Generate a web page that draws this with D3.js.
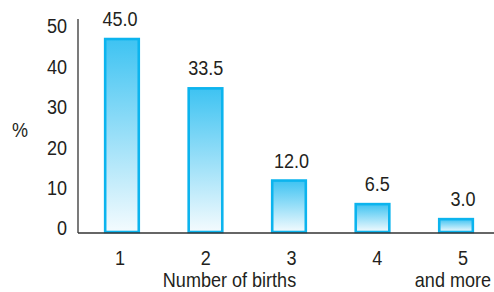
<!DOCTYPE html>
<html><head><meta charset="utf-8">
<script src="https://cdn.jsdelivr.net/npm/d3@7"></script>
<style>html,body{margin:0;padding:0;background:#fff;overflow:hidden}</style>
</head><body>
<svg id="c" width="494" height="292"></svg>
<script>
const categories = ["1", "2", "3", "4", "5"];
const categorySub = ["", "", "", "", "and more"];
const values = [45.0, 33.5, 12.0, 6.5, 3.0];
const yTicks = [0, 10, 20, 30, 40, 50];
const xTitle = "Number of births";
const yTitle = "%";

const svg = d3.select("#c");
const font = "'Liberation Sans', Arial, sans-serif";
const fs = 20.5;
const condense = 0.88;
const textColor = "#231f20";

const x = d3.scaleBand().domain(categories).range([78, 500]).paddingInner(0.569).paddingOuter(0.311);
const xLabel = d3.scalePoint().domain(categories).range([120, 463]);
const y = d3.scaleLinear().domain([0, 50]).range([232, 17.6]);
const yLabel = d3.scaleLinear().domain([0, 50]).range([228, 26]);

const defs = svg.append("defs");
const grad = defs.append("linearGradient").attr("id", "g").attr("x1", 0).attr("y1", 0).attr("x2", 0).attr("y2", 1);
grad.append("stop").attr("offset", "0%").attr("stop-color", "#3ec3f2");
grad.append("stop").attr("offset", "100%").attr("stop-color", "#f4fbfe");

svg.selectAll("rect.bar").data(values).join("rect")
  .attr("class", "bar")
  .attr("x", (d, i) => x(categories[i]) + 1.2)
  .attr("width", x.bandwidth() - 2.4)
  .attr("y", d => y(d))
  .attr("height", d => y(0) - y(d))
  .attr("fill", "url(#g)")
  .attr("stroke", "#0cb4ee")
  .attr("stroke-width", 2.6);

svg.append("line").attr("x1", 78).attr("x2", 78).attr("y1", 19).attr("y2", y(0) + 1)
  .attr("stroke", "#333").attr("stroke-width", 1.3);
svg.append("line").attr("x1", 78).attr("x2", 494).attr("y1", y(0) + 1).attr("y2", y(0) + 1)
  .attr("stroke", "#333").attr("stroke-width", 1.5);

function txt(sel) {
  return sel.attr("font-family", font).attr("font-size", fs).attr("fill", textColor);
}

txt(svg.selectAll("text.yt").data(yTicks).join("text")
  .attr("class", "yt")
  .attr("x", 67).attr("y", d => yLabel(d)).attr("dy", "0.36em")
  .attr("text-anchor", "end"))
  .text(d => d);

txt(svg.append("text").attr("x", 20).attr("y", 130).attr("dy", "0.36em")
  .attr("text-anchor", "middle"))
  .text(yTitle);

txt(svg.selectAll("text.val").data(values).join("text")
  .attr("class", "val")
  .attr("x", (d, i) => xLabel(categories[i]))
  .attr("y", d => y(d) - 13)
  .attr("text-anchor", "middle"))
  .text(d => d.toFixed(1));

txt(svg.selectAll("text.xt").data(categories).join("text")
  .attr("class", "xt")
  .attr("x", d => xLabel(d)).attr("y", 265)
  .attr("text-anchor", "middle"))
  .text(d => d);

txt(svg.append("text").attr("x", 229.5).attr("y", 287)
  .attr("text-anchor", "middle"))
  .text(xTitle);

// condense all glyphs horizontally to mimic a narrow face
svg.selectAll("text").each(function () {
  const w = this.getComputedTextLength();
  if (w > 0) {
    d3.select(this).attr("textLength", w * condense).attr("lengthAdjust", "spacingAndGlyphs");
  }
});

// sub-label: condensed via transform, right-aligned inside the frame
const subG = svg.selectAll("g.xs").data(categorySub.filter(d => d)).join("g")
  .attr("class", "xs")
  .attr("transform", `translate(491,287) scale(${condense},1)`);
txt(subG.append("text").attr("x", 0).attr("y", 0).attr("text-anchor", "end"))
  .text(d => d);
</script>
</body></html>
